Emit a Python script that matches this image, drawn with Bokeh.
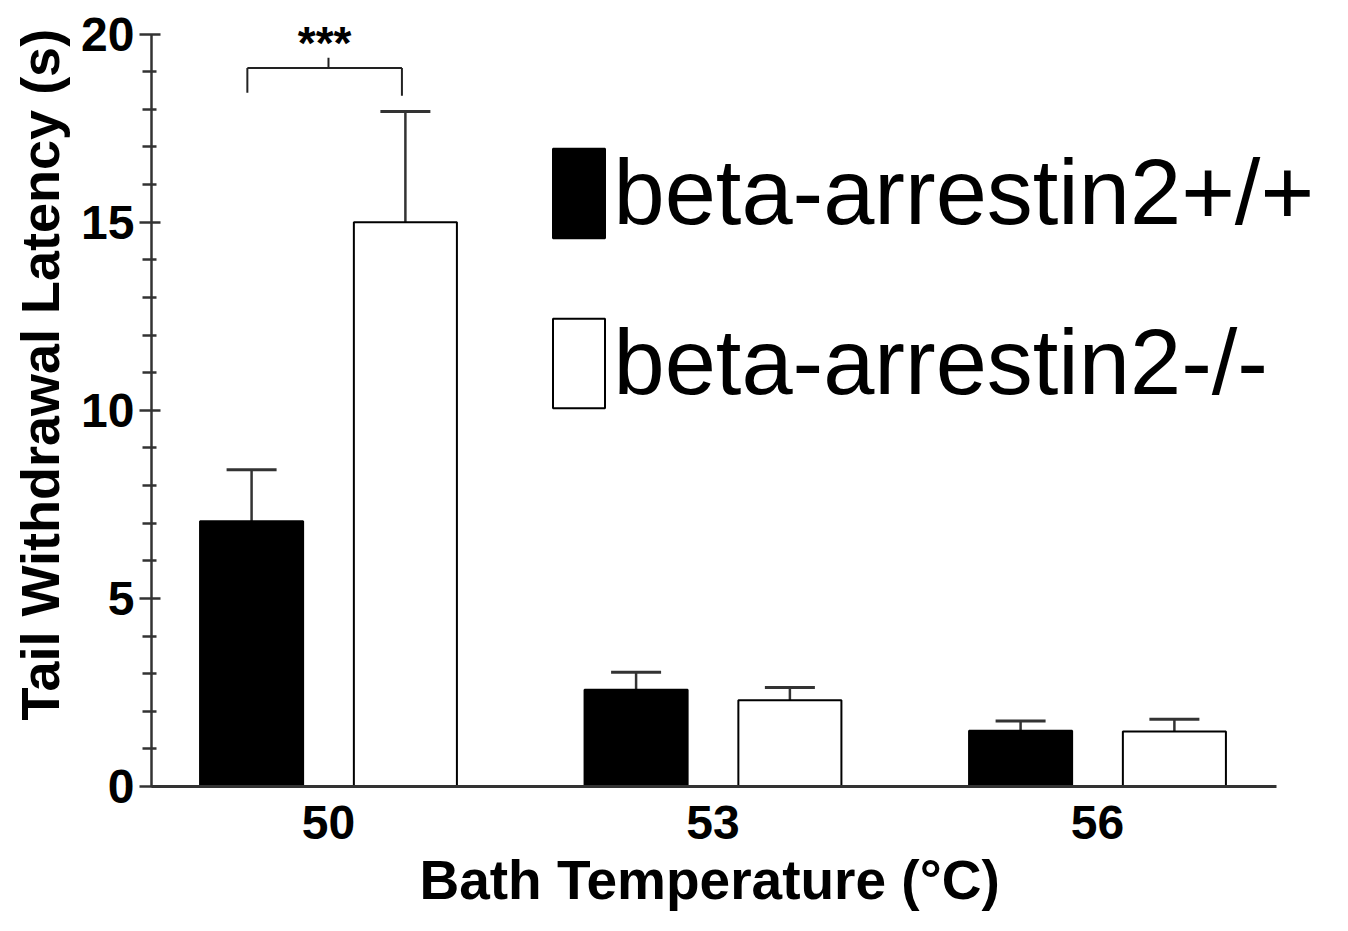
from bokeh.plotting import figure
from bokeh.models import (ColumnDataSource, Whisker, FixedTicker, Legend, LegendItem, Range1d, Title)
from bokeh.transform import dodge
from bokeh.core.properties import value
from bokeh.embed import file_html
from bokeh.resources import INLINE

# ---- data ----
temps = ["50", "53", "56"]
wt_label = "beta-arrestin2+/+"
ko_label = "beta-arrestin2-/-"
wt_mean = [7.05, 2.57, 1.48]
wt_sem = [1.37, 0.47, 0.26]
ko_mean = [15.0, 2.29, 1.46]
ko_sem = [2.94, 0.34, 0.33]
sig_text = "***"
x_title = "Bath Temperature (°C)"
y_title = "Tail Withdrawal Latency (s)"

idx = list(range(len(temps)))
src_wt = ColumnDataSource(dict(x=idx, top=wt_mean,
                               upper=[m + s for m, s in zip(wt_mean, wt_sem)]))
src_ko = ColumnDataSource(dict(x=idx, top=ko_mean,
                               upper=[m + s for m, s in zip(ko_mean, ko_sem)]))

FONT = "Liberation Sans"
AX = "#333333"

X0, X_AXIS_END, X1 = -0.4603, 2.4655, 2.6112
p = figure(width=1332, height=915, output_backend="svg", toolbar_location=None,
           x_range=Range1d(X0, X1), y_range=Range1d(0, 20.6),
           min_border_left=151, min_border_right=0, min_border_top=11, min_border_bottom=129,
           background_fill_color="white", border_fill_color="white")
p.outline_line_color = None
p.grid.grid_line_color = None

OFF = 0.2
W = 0.268
r_wt = p.vbar(x=dodge("x", -OFF, range=p.x_range), top="top", bottom=0, width=W,
              source=src_wt, fill_color="black", line_color="black", line_width=2)
r_ko = p.vbar(x=dodge("x", OFF, range=p.x_range), top="top", bottom=0, width=W,
              source=src_ko, fill_color="white", line_color="black", line_width=2)

for src, off in ((src_wt, -OFF), (src_ko, OFF)):
    w = Whisker(base=dodge("x", off, range=p.x_range), lower="top", upper="upper",
                source=src, dimension="height", line_color=AX, line_width=2.5)
    w.upper_head.size = 50
    w.upper_head.line_color = AX
    w.upper_head.line_width = 3
    w.lower_head = None
    p.add_layout(w)

# significance bracket between the two 50 °C bars
xl, xr = idx[0] - OFF - 0.011, idx[0] + OFF - 0.009
y_top, y_l, y_r, y_tick, y_star = 19.1, 18.44, 18.36, 19.37, 19.75
p.segment(x0=[xl, xl, xr, idx[0]], y0=[y_l, y_top, y_r, y_top],
          x1=[xl, xr, xr, idx[0]], y1=[y_top, y_top, y_top, y_tick],
          line_color="#222222", line_width=2)
p.text(x=[idx[0] - 0.01], y=[y_star], text=[sig_text], text_align="center", text_baseline="alphabetic",
       text_font=value(FONT), text_font_style="bold", text_font_size="46px", text_color="black")

# axes
yax = p.yaxis[0]
yax.bounds = (0, 20)
yax.ticker = FixedTicker(ticks=[0, 5, 10, 15, 20],
                         minor_ticks=[i for i in range(0, 21) if i % 5])
yax.major_tick_out = 12
yax.major_tick_in = 9
yax.minor_tick_out = 9
yax.minor_tick_in = 5
yax.major_label_standoff = 5

xax = p.xaxis[0]
xax.bounds = (X0, X_AXIS_END)
xax.ticker = FixedTicker(ticks=idx)
xax.major_label_overrides = {i: t for i, t in zip(idx, temps)}
xax.major_tick_out = 0
xax.major_tick_in = 0
xax.minor_tick_out = 0
xax.minor_tick_in = 0
xax.major_label_standoff = 19

for ax in (xax, yax):
    ax.axis_line_color = AX
    ax.axis_line_width = 3
    ax.major_tick_line_color = AX
    ax.major_tick_line_width = 2.5
    ax.minor_tick_line_color = AX
    ax.minor_tick_line_width = 2.5
    ax.major_label_text_font = FONT
    ax.major_label_text_font_style = "bold"
    ax.major_label_text_font_size = "48px"
    ax.major_label_text_color = "black"
yax.axis_line_width = 2.5

# axis titles (placed as side titles so they can be positioned like the reference)
p.add_layout(Title(text=x_title, align="left", offset=268, standoff=10, vertical_align="bottom",
                   text_font=FONT, text_font_style="bold", text_font_size="55px",
                   text_color="black"), "below")
p.add_layout(Title(text=y_title, align="left", offset=66, standoff=16, vertical_align="middle",
                   text_font=FONT, text_font_style="bold", text_font_size="54px",
                   text_color="black"), "left")

legend = Legend(items=[LegendItem(label=wt_label, renderers=[r_wt]),
                       LegendItem(label=ko_label, renderers=[r_ko])],
                location=(394.5, 367.5), orientation="vertical",
                glyph_width=65, glyph_height=112, label_standoff=3, spacing=58,
                padding=0, margin=0, border_line_color=None, background_fill_alpha=0,
                label_text_font=FONT, label_text_font_size="92px", label_text_color="black",
                label_height=112)
p.add_layout(legend)

open("out.html", "w").write(file_html(p, INLINE))
